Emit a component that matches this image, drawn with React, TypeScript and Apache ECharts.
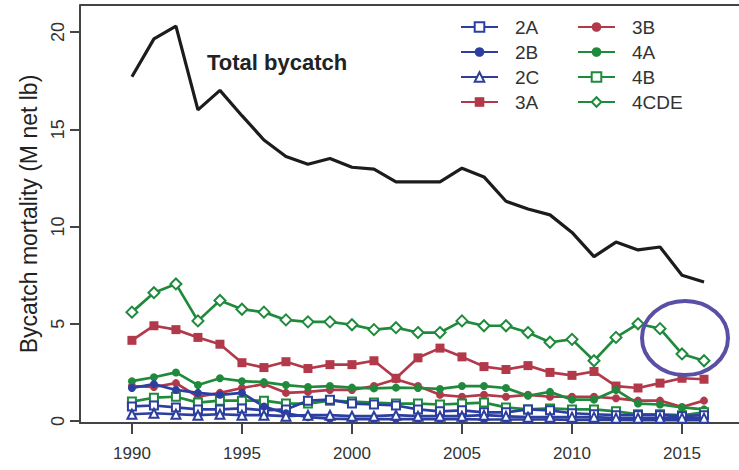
import React, { useEffect, useRef } from "react";
import * as echarts from "echarts";

const years = [1990, 1991, 1992, 1993, 1994, 1995, 1996, 1997, 1998, 1999, 2000, 2001, 2002, 2003, 2004, 2005, 2006, 2007, 2008, 2009, 2010, 2011, 2012, 2013, 2014, 2015, 2016];

const totalBycatch = [17.7, 19.65, 20.3, 16.0, 17.0, 15.7, 14.45, 13.6, 13.2, 13.5, 13.05, 12.95, 12.3, 12.3, 12.3, 13.0, 12.55, 11.3, 10.9, 10.6, 9.7, 8.45, 9.2, 8.8, 8.95, 7.5, 7.15];
const s2A = [0.75, 0.8, 0.7, 0.6, 0.6, 0.65, 0.55, 0.6, 1.05, 1.1, 0.9, 0.85, 0.8, 0.6, 0.5, 0.55, 0.45, 0.45, 0.6, 0.55, 0.4, 0.35, 0.3, 0.3, 0.3, 0.25, 0.3];
const s2B = [1.7, 1.9, 1.6, 1.45, 1.35, 1.45, 0.75, 0.4, 0.2, 0.12, 0.1, 0.1, 0.1, 0.1, 0.1, 0.1, 0.08, 0.08, 0.08, 0.08, 0.06, 0.06, 0.06, 0.05, 0.05, 0.05, 0.05];
const s2C = [0.35, 0.4, 0.35, 0.3, 0.35, 0.3, 0.3, 0.25, 0.3, 0.3, 0.25, 0.25, 0.3, 0.25, 0.25, 0.25, 0.3, 0.25, 0.2, 0.2, 0.2, 0.2, 0.15, 0.15, 0.15, 0.15, 0.15];
const s3A = [4.15, 4.9, 4.7, 4.3, 3.95, 3.0, 2.75, 3.05, 2.7, 2.9, 2.9, 3.1, 2.2, 3.25, 3.75, 3.3, 2.8, 2.65, 2.85, 2.5, 2.35, 2.55, 1.8, 1.7, 1.95, 2.2, 2.15];
const s3B = [1.8, 1.75, 1.95, 1.25, 1.45, 1.7, 1.9, 1.45, 1.5, 1.6, 1.6, 1.8, 2.15, 1.8, 1.35, 1.25, 1.35, 1.25, 1.35, 1.25, 1.25, 1.25, 1.17, 1.05, 1.05, 0.72, 1.05];
const s4A = [2.05, 2.25, 2.5, 1.85, 2.2, 2.05, 2.0, 1.85, 1.75, 1.8, 1.72, 1.68, 1.72, 1.7, 1.65, 1.8, 1.8, 1.7, 1.3, 1.5, 1.1, 1.1, 1.6, 0.9, 0.85, 0.7, 0.6];
const s4B = [1.0, 1.2, 1.25, 0.95, 1.05, 1.05, 1.05, 0.9, 0.9, 1.05, 1.0, 0.95, 0.9, 0.9, 0.85, 0.9, 0.95, 0.7, 0.6, 0.65, 0.6, 0.6, 0.5, 0.35, 0.35, 0.3, 0.45];
const s4CDE = [5.6, 6.6, 7.05, 5.15, 6.2, 5.75, 5.6, 5.2, 5.1, 5.1, 4.95, 4.7, 4.8, 4.55, 4.55, 5.15, 4.9, 4.9, 4.55, 4.05, 4.2, 3.1, 4.3, 5.0, 4.75, 3.45, 3.1];

const xTicks = [1990, 1995, 2000, 2005, 2010, 2015];
const yTicks = [0, 5, 10, 15, 20];
const legendCol1 = ["2A", "2B", "2C", "3A"];
const legendCol2 = ["3B", "4A", "4B", "4CDE"];

const BLUE = "#2c3e9f";
const RED = "#b2394a";
const GREEN = "#1f8a3c";
const FONT = "'Liberation Sans', Arial, sans-serif";

const pairs = (vals: number[]) => years.map((y, i) => [y, vals[i]]);

export default function App() {
  const ref = useRef<HTMLDivElement>(null);
  useEffect(() => {
    const chart = echarts.init(ref.current!, null, { renderer: "svg" });
    const mk = (name: string, vals: number[], color: string, symbol: string, size = 9) => ({
      name,
      type: "line",
      data: pairs(vals),
      symbol,
      symbolSize: size,
      showSymbol: true,
      itemStyle: { color, borderColor: color, borderWidth: symbol.startsWith("empty") ? 2 : 0 },
      lineStyle: { color, width: 2.7 },
      z: 3,
    });
    const legendText = { fontSize: 19, color: "#333", fontFamily: FONT, lineHeight: 20, padding: [0, 0, 0, 12] };
    const axisLineStyle = { color: "#444", width: 2 };
    chart.setOption({
      animation: false,
      backgroundColor: "#fff",
      textStyle: { fontFamily: FONT },
      grid: { left: 80, right: 0, top: 5, bottom: 47 },
      xAxis: {
        type: "value",
        min: 1987.64,
        max: 2017.59,
        splitLine: { show: false },
        axisLine: { show: true, onZero: false, lineStyle: axisLineStyle },
        axisTick: { show: true, length: 11, customValues: xTicks, lineStyle: axisLineStyle },
        axisLabel: {
          customValues: xTicks,
          formatter: (v: number) => String(v),
          fontSize: 17,
          color: "#333",
          margin: 22,
          fontFamily: FONT,
        },
      },
      yAxis: {
        type: "value",
        min: -0.1,
        max: 21.39,
        splitLine: { show: false },
        axisLine: { show: true, onZero: false, lineStyle: axisLineStyle },
        axisTick: { show: true, length: 10, customValues: yTicks, lineStyle: axisLineStyle },
        axisLabel: { customValues: yTicks, rotate: 90, fontSize: 18, color: "#333", margin: 13, fontFamily: FONT },
        name: "Bycatch mortality (M net lb)",
        nameLocation: "middle",
        nameRotate: 90,
        nameGap: 40,
        nameTextStyle: { fontSize: 23, color: "#222", fontFamily: FONT },
      },
      legend: [
        { orient: "vertical", left: 455, top: 12, itemWidth: 37, itemHeight: 12, itemGap: 5, data: legendCol1, textStyle: legendText },
        { orient: "vertical", left: 572, top: 12, itemWidth: 37, itemHeight: 12, itemGap: 5, data: legendCol2, textStyle: legendText },
      ],
      series: [
        {
          name: "Total bycatch",
          type: "line",
          data: pairs(totalBycatch),
          showSymbol: false,
          symbol: "none",
          lineStyle: { color: "#1c1c1c", width: 3.2 },
          itemStyle: { color: "#1c1c1c" },
          z: 4,
        },
        mk("4CDE", s4CDE, GREEN, "emptyDiamond", 11),
        mk("3A", s3A, RED, "rect", 9),
        mk("3B", s3B, RED, "circle", 8),
        mk("4A", s4A, GREEN, "circle", 8),
        mk("4B", s4B, GREEN, "emptyRect", 8),
        mk("2A", s2A, BLUE, "emptyRect", 8),
        mk("2B", s2B, BLUE, "circle", 8),
        mk("2C", s2C, BLUE, "emptyTriangle", 9),
      ],
      graphic: [
        { type: "line", shape: { x1: 80, y1: 5, x2: 739, y2: 5 }, style: { stroke: "#444", lineWidth: 2 } },
        {
          type: "text",
          left: 207,
          top: 51,
          style: { text: "Total bycatch", fontSize: 22, fontWeight: "bold", fill: "#222", fontFamily: FONT },
        },
        {
          type: "ellipse",
          shape: { cx: 685, cy: 338, rx: 43, ry: 37 },
          style: { fill: "none", stroke: "#5a4fa6", lineWidth: 4 },
          z: 10,
        },
      ],
    });
    return () => chart.dispose();
  }, []);
  return <div ref={ref} style={{ position: "absolute", left: 0, top: 0, width: 739, height: 470 }} />;
}
